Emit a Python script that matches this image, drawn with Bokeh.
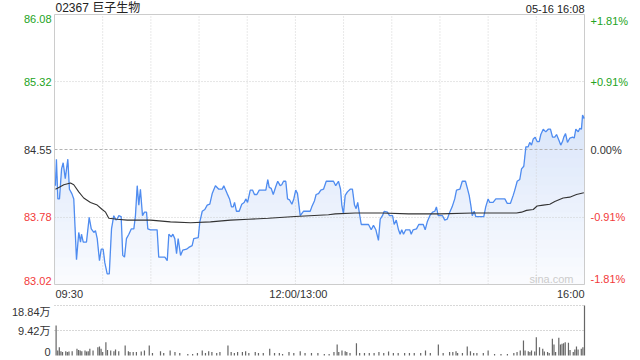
import numpy as np
from bokeh.plotting import figure
from bokeh.models import ColumnDataSource, LabelSet, Range1d
from bokeh.layouts import column
from bokeh.core.properties import value, field
from bokeh.embed import file_html
from bokeh.resources import INLINE

title_text = "02367 巨子生物"
stamp_text = "05-16 16:08"
watermark = "sina.com"
prev_close = 84.55
price_ticks = [83.02, 83.78, 84.55, 85.32, 86.08]
pct_labels = ["-1.81%", "-0.91%", "0.00%", "+0.91%", "+1.81%"]
time_ticks = [0, 150, 330]
time_labels = ["09:30", "12:00/13:00", "16:00"]
grid_minutes = [30, 60, 90, 120, 150, 180, 210, 240, 270, 300]
vol_ticks = [0, 9.42, 18.84]
vol_labels = ["0", "9.42万", "18.84万"]

# trading minutes since 09:30 (lunch break removed)
price_t = [0.6, 1.2, 2.1, 3.1, 4.4, 5.4, 6.7, 8.3, 9.3, 10.8, 12.0, 13.7, 15.1, 16.2, 16.8, 17.9, 19.9,
           21.6, 22.9, 24.5, 25.5, 26.6, 28.0, 29.1, 30.3, 31.3, 32.8, 34.1, 35.5, 36.9, 38.2, 39.0,
           40.0, 41.5, 42.5, 43.6, 44.8, 46.3, 47.8, 49.4, 50.4, 51.5, 52.5, 53.5, 54.8, 56.0, 57.3,
           58.1, 59.8, 63.9, 64.9, 68.7, 70.2, 71.2, 72.7, 73.7, 74.9, 76.0, 77.0, 78.5, 79.9, 82.2,
           83.6, 85.7, 86.7, 89.5, 90.5, 92.0, 93.6, 95.1, 96.7, 98.2, 100.2, 102.3, 104.4, 105.4,
           107.5, 109.0, 110.2, 111.3, 112.1, 113.3, 115.0, 116.6, 118.1, 119.1, 120.2, 121.9, 123.3,
           124.5, 126.0, 127.5, 131.6, 132.8, 133.7, 134.9, 136.2, 137.8, 139.0, 140.5, 141.5, 142.6,
           144.0, 145.1, 146.3, 147.8, 149.0, 150.2, 151.3, 153.0, 155.0, 159.2, 160.2, 161.9, 162.9,
           164.4, 165.8, 167.5, 169.2, 173.7, 175.1, 176.8, 178.1, 178.9, 179.9, 181.0, 182.4, 184.1,
           185.5, 186.8, 187.8, 188.8, 189.9, 191.0, 195.5, 197.2, 198.6, 200.1, 201.7, 202.8, 204.2,
           205.3, 207.3, 208.6, 210.5, 211.5, 212.8, 214.2, 215.2, 216.2, 217.3, 218.7, 221.2, 222.1,
           223.3, 225.4, 226.8, 229.6, 230.8, 232.1, 233.7, 235.4, 236.8, 237.8, 238.9, 241.6, 243.0,
           244.5, 246.1, 247.6, 249.2, 250.3, 252.4, 253.9, 255.9, 257.2, 258.2, 259.2, 260.1, 261.3,
           262.3, 267.3, 268.5, 270.0, 271.0, 273.1, 274.8, 280.4, 281.9, 283.9, 285.6, 286.6, 288.1,
           289.7, 290.8, 292.2, 293.5, 294.9, 295.9, 297.0, 298.1, 299.3, 300.5, 301.8, 302.8, 304.3,
           305.9, 307.4, 308.8, 310.1, 311.5, 312.6, 314.2, 315.2, 316.3, 317.1, 318.2, 319.4, 320.9,
           322.6, 323.6, 324.6, 326.1, 327.1, 328.1, 328.8, 329.8]
price_v = [84.14, 84.44, 83.99, 83.99, 84.33, 84.40, 84.22, 84.44, 84.10, 84.05, 83.99, 83.30, 83.61, 83.50, 83.59, 83.50, 83.50,
           83.78, 83.65, 83.61, 83.63, 83.54, 83.29, 83.42, 83.42, 83.27, 83.14, 83.14, 83.65, 83.80, 83.75, 83.76,
           83.80, 83.79, 83.35, 83.33, 83.54, 83.59, 83.65, 83.65, 83.80, 84.14, 83.92, 84.10, 83.80, 83.84, 83.84,
           83.65, 83.64, 83.64, 83.33, 83.33, 83.29, 83.59, 83.56, 83.59, 83.54, 83.37, 83.54, 83.35, 83.41, 83.42,
           83.44, 83.46, 83.54, 83.55, 83.73, 83.85, 83.87, 83.92, 83.93, 84.05, 84.14, 84.10, 84.10, 84.14,
           84.05, 83.99, 83.90, 83.90, 83.95, 83.85, 83.85, 83.93, 83.95, 83.99, 83.95, 84.09, 84.09,
           84.04, 84.04, 84.09, 84.09, 84.21, 84.12, 84.11, 84.04, 84.13, 84.19, 84.14, 84.15, 84.19,
           84.19, 83.99, 83.98, 83.93, 83.99, 84.09, 84.05, 83.80, 83.85, 83.85, 83.90, 83.97, 84.04,
           84.05, 84.09, 84.10, 84.19, 84.19, 84.14, 84.19, 84.10, 83.92, 83.82, 84.03, 84.07, 84.10,
           84.10, 83.92, 83.88, 83.95, 83.82, 83.70, 83.70, 83.64, 83.69, 83.64, 83.52, 83.76, 83.80,
           83.85, 83.84, 83.80, 83.80, 83.70, 83.75, 83.64, 83.59, 83.64, 83.59, 83.64, 83.64, 83.59,
           83.64, 83.65, 83.70, 83.70, 83.64, 83.73, 83.80, 83.84, 83.85, 83.90, 83.80, 83.80, 83.75,
           83.76, 83.84, 83.90, 83.99, 84.09, 84.10, 84.19, 84.19, 84.10, 84.03, 83.92, 83.80, 83.85,
           83.79, 83.79, 83.90, 83.99, 83.95, 83.95, 83.99, 83.99, 83.94, 83.94, 84.03, 84.09, 84.19,
           84.21, 84.33, 84.36, 84.58, 84.58, 84.63, 84.60, 84.67, 84.69, 84.64, 84.64, 84.72, 84.78,
           84.75, 84.78, 84.78, 84.69, 84.69, 84.72, 84.65, 84.60, 84.64, 84.69, 84.73, 84.63, 84.68,
           84.69, 84.68, 84.78, 84.75, 84.79, 84.78, 84.94, 84.90]

avg_t = [0.6, 2.7, 5.8, 10.0, 12.0, 15.1, 18.2, 22.4, 26.6, 29.7, 31.8, 33.8, 39.0, 45.3, 59.8, 72.2,
         84.7, 97.1, 109.6, 120.8, 133.2, 149.9, 170.6, 174.8, 187.2, 203.8, 220.4, 239.9, 260.7,
         287.7, 290.8, 293.9, 298.1, 300.5, 304.3, 308.4, 311.5, 316.7, 320.8, 325.0, 329.6]
avg_v = [84.10, 84.12, 84.15, 84.17, 84.15, 84.07, 84.00, 83.95, 83.92, 83.87, 83.84, 83.77, 83.76, 83.75, 83.75, 83.73,
         83.72, 83.73, 83.75, 83.76, 83.77, 83.79, 83.81, 83.82, 83.83, 83.83, 83.82, 83.82, 83.83,
         83.83, 83.84, 83.86, 83.87, 83.91, 83.92, 83.93, 83.96, 84.00, 84.01, 84.04, 84.06]

vol_t = [1, 2, 3, 4, 5, 7, 8, 9, 11, 14, 15, 16, 17, 19, 20, 21, 22, 24, 27, 28,
         29, 30, 32, 33, 35, 37, 38, 40, 44, 46, 47, 49, 51, 54, 56, 59, 61, 66, 68, 72,
         75, 78, 83, 86, 89, 92, 94, 96, 98, 101, 103, 108, 110, 112, 114, 117, 119, 121, 125, 127,
         130, 134, 137, 140, 142, 146, 149, 153, 156, 160, 164, 168, 171, 174, 176, 177, 179, 181, 182, 184,
         188, 190, 193, 196, 199, 202, 205, 208, 211, 214, 218, 221, 224, 228, 231, 234, 239, 242, 246, 248,
         250, 251, 254, 257, 259, 261, 263, 267, 270, 274, 278, 282, 286, 288, 290, 292, 293, 295, 296, 297,
         299, 300, 302, 304, 305, 307, 308, 310, 311, 312, 314, 315, 316, 317, 318, 320, 321, 323, 324, 325,
         326, 328, 329, 330]
vol_v = [11.3, 1.9, 3.1, 1.6, 1.3, 1.6, 1.3, 1.5, 1.6, 2.5, 2.1, 1.9, 1.6, 1.9, 1.5, 1.6, 2.5, 1.9, 3.1, 3.4,
         2.5, 1.3, 5.0, 2.1, 1.9, 1.6, 2.3, 1.6, 3.8, 1.6, 1.3, 1.3, 1.3, 1.5, 1.9, 3.8, 0.9, 1.6, 0.9, 1.9,
         1.3, 0.9, 0.6, 0.6, 0.9, 1.9, 0.9, 1.6, 1.3, 0.9, 1.3, 3.8, 1.3, 0.9, 1.3, 1.3, 1.6, 0.9, 1.3, 0.9,
         0.9, 2.5, 0.9, 0.9, 0.6, 1.3, 0.9, 1.6, 0.9, 0.9, 0.9, 0.6, 0.6, 1.3, 4.1, 1.3, 1.9, 1.6, 1.3, 0.9,
         4.6, 0.9, 0.9, 0.9, 0.9, 1.3, 0.9, 1.5, 0.9, 0.9, 0.9, 0.9, 0.9, 0.9, 1.9, 0.9, 4.1, 0.9, 1.3, 1.3,
         1.6, 0.9, 0.9, 3.4, 1.6, 0.9, 0.9, 0.9, 1.9, 0.6, 0.6, 0.6, 0.9, 1.3, 1.9, 5.65, 1.9, 1.6, 1.3, 1.9,
         1.5, 6.9, 3.1, 2.5, 1.5, 1.3, 0.9, 6.3, 4.1, 1.3, 6.7, 4.1, 4.4, 4.6, 5.0, 4.8, 2.1, 1.3, 2.3, 3.4,
         2.3, 2.5, 3.1, 18.84]

FONT = "Liberation Sans, Noto Sans CJK SC"
GREEN = "#22a322"
RED = "#f23a3a"
DARK = "#333333"

# ---- pixel layout of the chart boxes ----
W, H1, H2 = 640, 303, 57
L, R = 54, 584            # chart left/right edge
T, B = 14, 284            # price box top/bottom (in top figure)
VT, VB = 2, 52            # volume box top/bottom (in bottom figure)

lo, hi = price_ticks[0], price_ticks[-1]
t0, t_end = time_ticks[0], time_ticks[-1]
sx = (R - L) / (t_end - t0)
xr = (t0 - L / sx, t_end + (W - R) / sx)
sy = (B - T) / (hi - lo)
yr = (lo - (H1 - B) / sy, hi + T / sy)

p1 = figure(width=W, height=H1, x_range=Range1d(*xr), y_range=Range1d(*yr),
            x_axis_type=None, y_axis_type=None, output_backend="svg", toolbar_location=None,
            min_border=0)
p1.outline_line_color = None
p1.background_fill_color = "white"
p1.border_fill_color = "white"

# gradient-like fill under price line (layers, top colour first)
t = np.array(price_t)
v = np.array(price_v)
nb = 30
edges = np.linspace(lo, hi, nb + 1)
c_bot = np.array([251, 252, 255])
c_top = np.array([198, 216, 247])
for i in range(nb - 1, -1, -1):
    f = (i + 0.5) / nb
    c = (c_bot + (c_top - c_bot) * f).astype(int)
    col = "#%02x%02x%02x" % tuple(c)
    p1.varea(x=t, y1=np.full_like(v, lo), y2=np.minimum(v, edges[i + 1]), fill_color=col)

# grid lines
p1.segment(x0=grid_minutes, y0=[lo] * len(grid_minutes), x1=grid_minutes, y1=[hi] * len(grid_minutes),
           line_color="#d2d2d2", line_dash="1 2", line_width=1)
inner = [y for y in price_ticks if y not in (lo, hi, prev_close)]
p1.segment(x0=[t0] * len(inner), y0=inner, x1=[t_end] * len(inner), y1=inner,
           line_color="#cdcdcd", line_dash="1 2", line_width=1)
p1.segment(x0=[t0], y0=[prev_close], x1=[t_end], y1=[prev_close],
           line_color="#b3b3b3", line_dash="3 2", line_width=1)
# box
p1.quad(left=[t0], right=[t_end], bottom=[lo], top=[hi], fill_color=None, line_color="#cccccc", line_width=1)

p1.line(price_t, price_v, line_color="#4f8cf0", line_width=1.3)
p1.line(avg_t, avg_v, line_color="#333333", line_width=1.1)

def tick_color(x):
    if abs(x - prev_close) < 1e-9:
        return DARK
    return GREEN if x > prev_close else RED

baselines = ["bottom"] + ["middle"] * (len(price_ticks) - 2) + ["top"]
left_src = ColumnDataSource(dict(x=[t0] * len(price_ticks), y=price_ticks,
                                 text=["%.2f" % x for x in price_ticks],
                                 color=[tick_color(x) for x in price_ticks], bl=baselines))
p1.add_layout(LabelSet(x="x", y="y", text="text", source=left_src, x_offset=-3,
                       text_align="right", text_baseline=field("bl"), text_color=field("color"),
                       text_font=value(FONT), text_font_size="11px"))
right_src = ColumnDataSource(dict(x=[t_end] * len(price_ticks), y=price_ticks, text=pct_labels,
                                  color=[tick_color(x) for x in price_ticks], bl=baselines))
p1.add_layout(LabelSet(x="x", y="y", text="text", source=right_src, x_offset=6,
                       text_align="left", text_baseline=field("bl"), text_color=field("color"),
                       text_font=value(FONT), text_font_size="11px"))
time_src = ColumnDataSource(dict(x=time_ticks, y=[lo - 3 / sy] * len(time_ticks), text=time_labels,
                                 al=["left", "center", "right"], dx=[1, 3, 0]))
p1.add_layout(LabelSet(x="x", y="y", text="text", source=time_src, x_offset=field("dx"),
                       text_align=field("al"), text_baseline="top", text_color=DARK,
                       text_font=value(FONT), text_font_size="11px"))
head_src = ColumnDataSource(dict(x=[t0, t_end], y=[hi, hi], text=[title_text, stamp_text],
                                 al=["left", "right"], dx=[1, 0], fs=["12px", "11px"]))
p1.add_layout(LabelSet(x="x", y="y", text="text", source=head_src, x_offset=field("dx"),
                       text_align=field("al"), text_baseline="bottom", text_color="#222222",
                       text_font=value(FONT), text_font_size=field("fs")))
wm_src = ColumnDataSource(dict(x=[t_end], y=[lo], text=[watermark]))
p1.add_layout(LabelSet(x="x", y="y", text="text", source=wm_src, x_offset=-11,
                       text_align="right", text_baseline="bottom", text_color="#cccccc",
                       text_font=value(FONT), text_font_size="11px"))

# ---- volume panel ----
vmax = vol_ticks[-1]
vsy = (VB - VT) / vmax
vyr = (0 - (H2 - VB) / vsy, vmax + VT / vsy)
p2 = figure(width=W, height=H2, x_range=Range1d(*xr), y_range=Range1d(*vyr),
            x_axis_type=None, y_axis_type=None, output_backend="svg", toolbar_location=None,
            min_border=0)
p2.outline_line_color = None
p2.background_fill_color = "white"
p2.border_fill_color = "white"
vg = vol_ticks[1:]
p2.segment(x0=[t0] * len(vg), y0=vg, x1=[t_end] * len(vg), y1=vg,
           line_color="#b0b0b0", line_dash="1 2", line_width=1)
p2.vbar(x=vol_t, top=vol_v, bottom=0, width=0.75, fill_color="#666666", line_color=None)
vol_src = ColumnDataSource(dict(x=[t0] * len(vol_ticks), y=vol_ticks, text=vol_labels,
                                bl=["bottom", "middle", "top"]))
p2.add_layout(LabelSet(x="x", y="y", text="text", source=vol_src, x_offset=-4,
                       text_align="right", text_baseline=field("bl"), text_color=DARK,
                       text_font=value(FONT), text_font_size="11px"))

layout = column(p1, p2, spacing=0)
open("out.html", "w").write(file_html(layout, INLINE))
